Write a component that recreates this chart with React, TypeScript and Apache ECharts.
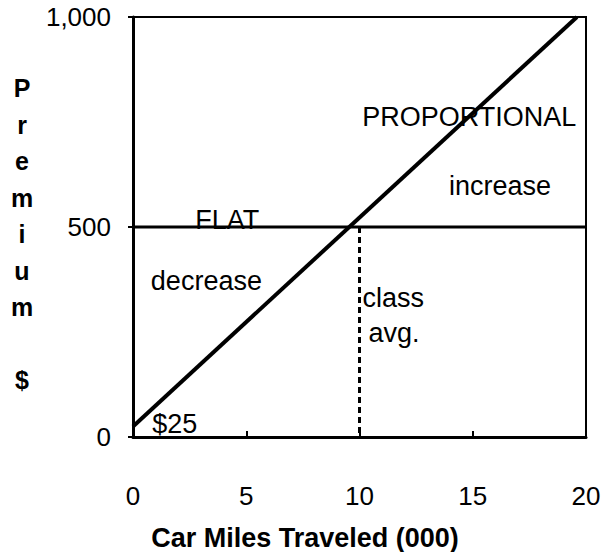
import React, { useEffect, useRef } from "react";
import * as echarts from "echarts";

const xTicks = [0, 5, 10, 15, 20];
const yTicks = [0, 500, 1000];
const flatLine: [number, number][] = [[0, 500], [20, 500]];
const proportionalLine: [number, number][] = [[0, 25], [19.6, 1000]];
const classAvgLine: [number, number][] = [[10, 500], [10, 0]];
const notes: { text: string; x: number; y: number; align: string }[] = [
  { text: "PROPORTIONAL", x: 14.85, y: 762, align: "center" },
  { text: "increase", x: 16.2, y: 598, align: "center" },
  { text: "FLAT", x: 4.16, y: 517, align: "center" },
  { text: "decrease", x: 3.24, y: 372, align: "center" },
  { text: "class", x: 10.13, y: 331, align: "left" },
  { text: "avg.", x: 10.4, y: 248, align: "left" },
  { text: "$25", x: 0.85, y: 30, align: "left" },
];
const yTitle = "P\nr\ne\nm\ni\nu\nm\n\n$";
const xTitle = "Car Miles Traveled (000)";

const FONT = "'Liberation Sans', Arial, sans-serif";

export default function App() {
  const ref = useRef<HTMLDivElement>(null);
  useEffect(() => {
    const chart = echarts.init(ref.current!, null, { renderer: "svg" });
    chart.setOption({
      animation: false,
      backgroundColor: "#fff",
      grid: { left: 133, top: 17, right: 18, bottom: 115, show: true, borderColor: "#000", borderWidth: 2 },
      xAxis: {
        type: "value",
        min: xTicks[0],
        max: xTicks[xTicks.length - 1],
        interval: 5,
        axisLine: { show: true, onZero: false, lineStyle: { color: "#000", width: 3 } },
        axisTick: { show: true, inside: true, length: 6, lineStyle: { color: "#000", width: 2 } },
        axisLabel: { color: "#000", fontSize: 26, fontFamily: FONT, margin: 46 },
        splitLine: { show: false },
      },
      yAxis: {
        type: "value",
        min: yTicks[0],
        max: yTicks[yTicks.length - 1],
        interval: 500,
        axisLine: { show: true, onZero: false, lineStyle: { color: "#000", width: 3 } },
        axisTick: { show: true, inside: false, length: 5, lineStyle: { color: "#000", width: 2 } },
        axisLabel: {
          color: "#000",
          fontSize: 26,
          fontFamily: FONT,
          margin: 22,
          formatter: (v: number) => v.toLocaleString("en-US"),
        },
        splitLine: { show: false },
      },
      graphic: [
        {
          type: "text",
          x: 22,
          y: 234,
          style: {
            text: yTitle,
            font: `bold 25px ${FONT}`,
            lineHeight: 36.5,
            align: "center",
            verticalAlign: "middle",
            fill: "#000",
          },
        },
        {
          type: "text",
          x: 305,
          y: 538,
          style: {
            text: xTitle,
            font: `bold 27px ${FONT}`,
            align: "center",
            verticalAlign: "middle",
            fill: "#000",
          },
        },
      ],
      series: [
        {
          type: "line",
          data: flatLine,
          symbol: "none",
          lineStyle: { color: "#000", width: 3 },
        },
        {
          type: "line",
          data: classAvgLine,
          symbol: "none",
          lineStyle: { color: "#000", width: 3, type: [6, 4] },
        },
        {
          type: "line",
          data: proportionalLine,
          symbol: "none",
          lineStyle: { color: "#000", width: 4 },
        },
        {
          type: "scatter",
          data: notes.map((n) => ({
            value: [n.x, n.y],
            label: { align: n.align },
            name: n.text,
          })),
          symbolSize: 1,
          itemStyle: { color: "rgba(0,0,0,0)" },
          label: {
            show: true,
            position: "inside",
            formatter: (p: any) => p.name,
            color: "#000",
            opacity: 1,
            textBorderWidth: 0,
            fontSize: 27,
            fontFamily: FONT,
            verticalAlign: "middle",
          },
          z: 10,
        },
      ],
    });
    return () => chart.dispose();
  }, []);
  return <div ref={ref} style={{ width: 604, height: 552, position: "absolute", left: 0, top: 0 }} />;
}
